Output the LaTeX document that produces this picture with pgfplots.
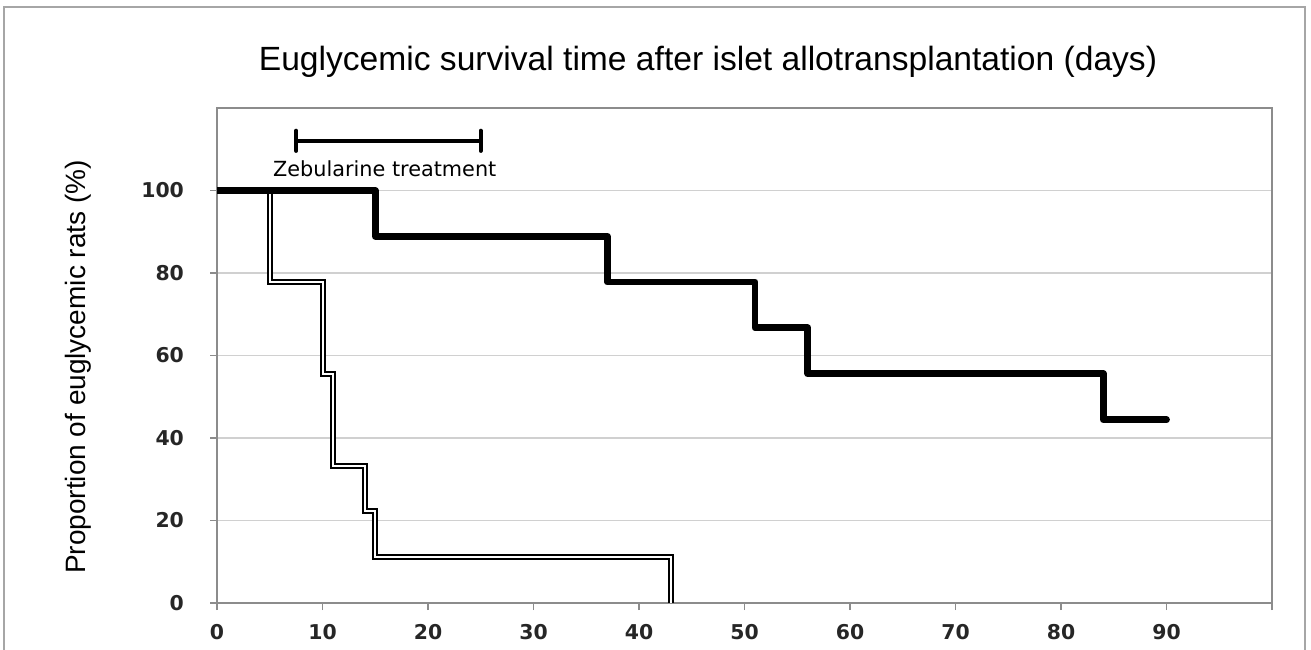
\documentclass[border=0pt]{standalone}
\usepackage{pgfplots}
\pgfplotsset{compat=1.18}
\usepackage{fontspec}
\setmainfont{Liberation Sans}
\newfontfamily\dejavu{DejaVu Sans}
\definecolor{framegray}{HTML}{A6A6A6}
\definecolor{axisgray}{HTML}{8C8C8C}
\definecolor{gridgray}{HTML}{D0D0D0}
\begin{document}
\begin{tikzpicture}
\useasboundingbox (0,0) rectangle (655.5pt,-324.5pt);
\draw[framegray, line width=1pt] (2pt,-340pt) -- (2pt,-3.5pt) -- (652.5pt,-3.5pt) -- (652.5pt,-340pt);
\node[font=\fontsize{16.8pt}{20pt}\selectfont, anchor=base] at (354pt,-35pt) {Euglycemic survival time after islet allotransplantation (days)};
\node[font=\fontsize{14pt}{17pt}\selectfont, rotate=90] at (39pt,-183.5pt) {Proportion of euglycemic rats (\%)};
\begin{axis}[
  at={(108.5pt,-301.5pt)}, anchor=south west,
  scale only axis, width=527.5pt, height=247.5pt,
  xmin=0, xmax=100, ymin=0, ymax=120,
  xtick={0,10,...,100}, xticklabels={0,10,20,30,40,50,60,70,80,90,{}},
  ytick={0,20,...,100},
  xtick pos=bottom, ytick pos=left,
  ymajorgrids, grid style={gridgray, line width=0.8pt},
  axis line style={axisgray, line width=0.9pt},
  tick style={axisgray, line width=0.8pt},
  tick align=outside, major tick length=3.5pt,
  /pgf/number format/assume math mode=true,
  ticklabel style={font=\dejavu\bfseries\fontsize{10.2pt}{12pt}\selectfont, text=black!85},
  yticklabel style={xshift=-9.5pt},
  xticklabel style={yshift=-3.5pt},
]
% control group (double line)
\addplot[const plot, black, double=white, double distance=1pt, line width=1pt] coordinates {
  (0,100) (5,77.8) (10,55.6) (11,33.3) (14,22.2) (15,11.1) (43,0)
};
% zebularine group (thick line)
\addplot[const plot, black, line width=3.4pt, line join=round, line cap=round] coordinates {
  (0,100) (15,88.9) (37,77.8) (51,66.7) (56,55.6) (84,44.4) (90,44.4)
};
% treatment period bar
\addplot[black, line width=2pt] coordinates {(7.5,112) (25,112)};
\addplot[black, line width=2pt, line cap=round] coordinates {(7.5,109.6) (7.5,114.5)};
\addplot[black, line width=2pt, line cap=round] coordinates {(25,109.6) (25,114.5)};
\node[font=\dejavu\fontsize{10.4pt}{12pt}\selectfont, anchor=base] at (axis cs:15.9,103.4) {Zebularine treatment};
\end{axis}
\end{tikzpicture}
\end{document}
